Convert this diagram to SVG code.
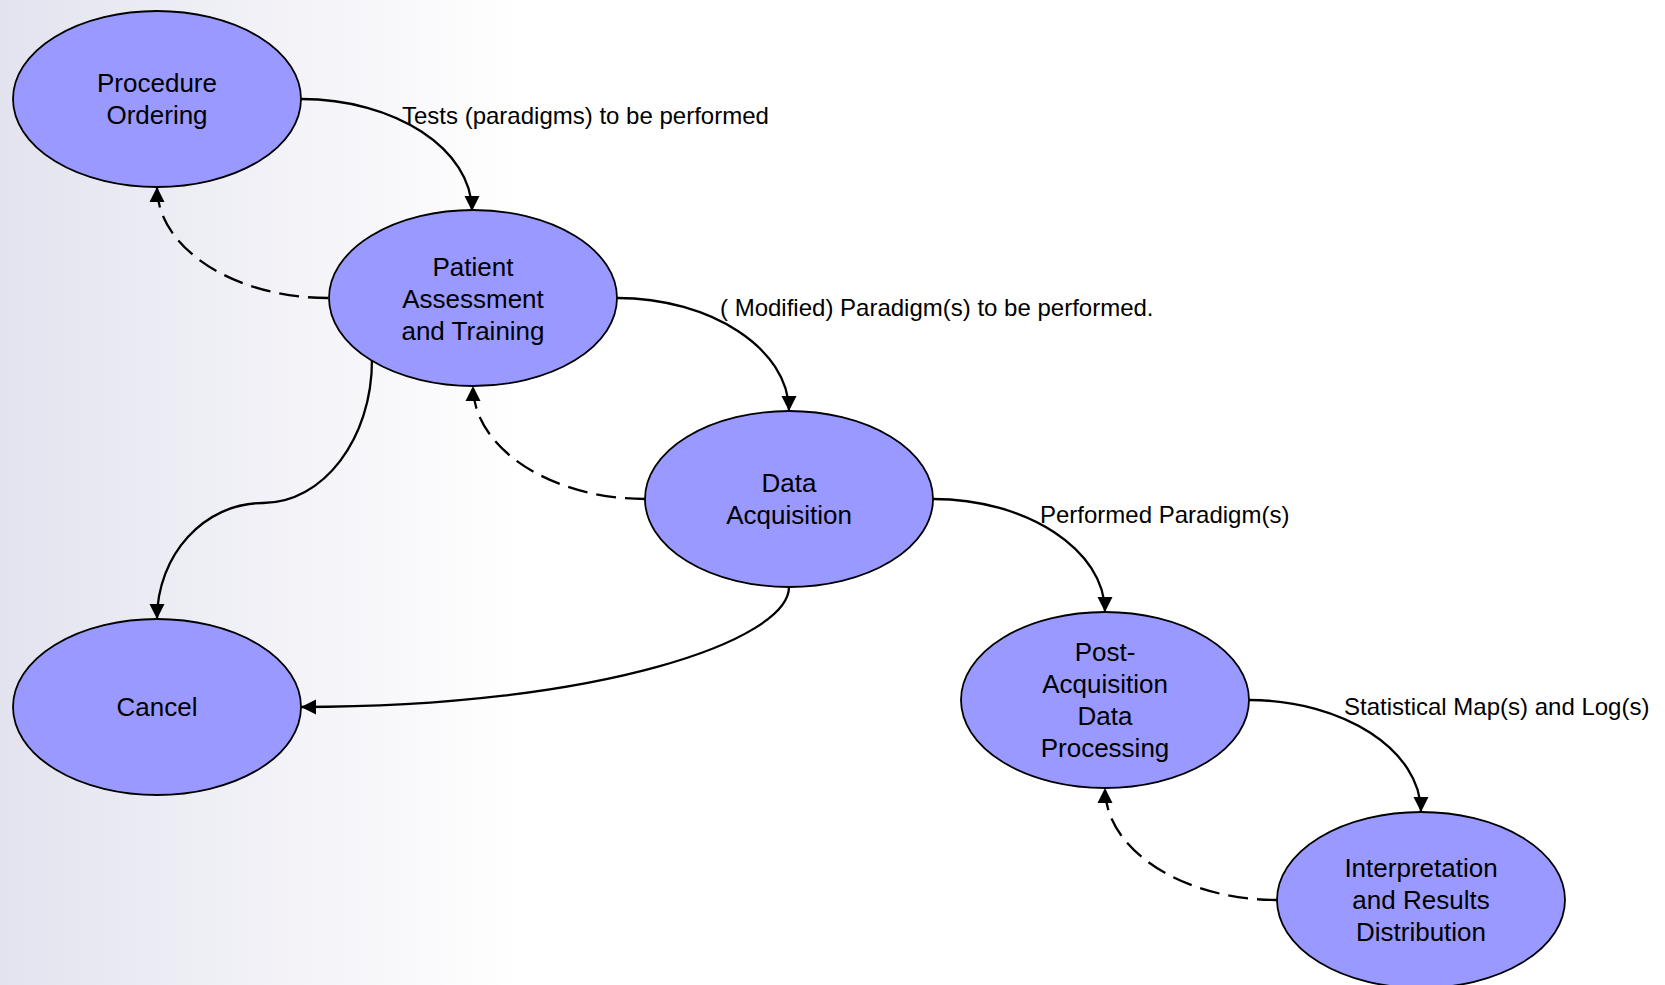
<svg xmlns="http://www.w3.org/2000/svg" width="1665" height="985" viewBox="0 0 1665 985">
<defs>
<linearGradient id="bg" gradientUnits="userSpaceOnUse" x1="0" y1="0" x2="520" y2="0">
<stop offset="0" stop-color="#e3e3ef"/>
<stop offset="1" stop-color="#ffffff"/>
</linearGradient>
<marker id="arr" markerUnits="userSpaceOnUse" markerWidth="16" markerHeight="16" refX="15" refY="8" orient="auto" viewBox="0 0 16 16">
<path d="M0,0.5 L15,8 L0,15.5 z" fill="#000"/>
</marker>
<style>
.node ellipse{fill:#9999ff;stroke:#000;stroke-width:1.8}
.node text{font-family:"Liberation Sans",Arial,Helvetica,sans-serif;font-size:26px;fill:#000;text-anchor:middle}
.edge{fill:none;stroke:#000;stroke-width:2.3;marker-end:url(#arr)}
.dash{stroke-dasharray:20 9}
.lbl{font-family:"Liberation Sans",Arial,Helvetica,sans-serif;font-size:24px;fill:#000}
</style>
</defs>
<rect x="0" y="0" width="1665" height="985" fill="url(#bg)"/>
<g id="connectors">
<path class="edge" d="M301,99 C395,99 472,149 472,211"/>
<path class="edge" d="M617,298 C711,298 789,349 789,411"/>
<path class="edge" d="M933,499 C1027,499 1105,550 1105,612"/>
<path class="edge" d="M1249,700 C1343,700 1421,750 1421,812"/>
<path class="edge dash" d="M328,298 C234,298 157,248 157,187"/>
<path class="edge dash" d="M645,499 C551,499 473,448 473,386"/>
<path class="edge dash" d="M1277,900 C1183,900 1105,850 1105,788"/>
<path class="edge" d="M372,360 C372,439 323,503 263,503 C204,503 157,555 157,619"/>
<path class="edge" d="M789,587 C789,640 600,707 301,707"/>
<text class="lbl" x="402" y="124">Tests (paradigms) to be performed</text>
<text class="lbl" x="720" y="316">( Modified) Paradigm(s) to be performed.</text>
<text class="lbl" x="1040" y="523">Performed Paradigm(s)</text>
<text class="lbl" x="1344" y="715">Statistical Map(s) and Log(s)</text>
</g>
<g id="procedure-ordering" class="node">
<ellipse cx="157" cy="99" rx="144" ry="88"/>
<text x="157" y="92">Procedure</text>
<text x="157" y="124">Ordering</text>
</g>
<g id="patient-assessment" class="node">
<ellipse cx="473" cy="298" rx="144" ry="88"/>
<text x="473" y="276">Patient</text>
<text x="473" y="308">Assessment</text>
<text x="473" y="340">and Training</text>
</g>
<g id="data-acquisition" class="node">
<ellipse cx="789" cy="499" rx="144" ry="88"/>
<text x="789" y="492">Data</text>
<text x="789" y="524">Acquisition</text>
</g>
<g id="cancel" class="node">
<ellipse cx="157" cy="707" rx="144" ry="88"/>
<text x="157" y="716">Cancel</text>
</g>
<g id="post-acquisition" class="node">
<ellipse cx="1105" cy="700" rx="144" ry="88"/>
<text x="1105" y="661">Post-</text>
<text x="1105" y="693">Acquisition</text>
<text x="1105" y="725">Data</text>
<text x="1105" y="757">Processing</text>
</g>
<g id="interpretation" class="node">
<ellipse cx="1421" cy="900" rx="144" ry="88"/>
<text x="1421" y="877">Interpretation</text>
<text x="1421" y="909">and Results</text>
<text x="1421" y="941">Distribution</text>
</g>
</svg>
